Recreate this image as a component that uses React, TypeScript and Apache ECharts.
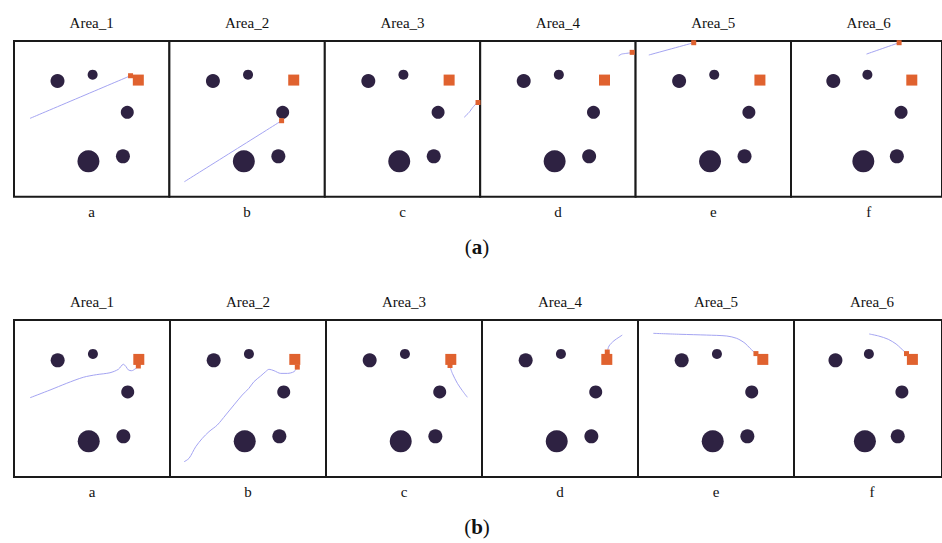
import React, { useEffect, useRef } from "react";
import * as echarts from "echarts";

const areaTitles = ["Area_1", "Area_2", "Area_3", "Area_4", "Area_5", "Area_6"];
const panelLabels = ["a", "b", "c", "d", "e", "f"];
const rowCaptions = ["a", "b"];

// obstacles (shared by all panels), in 0..100 panel units
const circleX = [28.0, 50.6, 72.9, 47.9, 70.1];
const circleY = [74.3, 78.4, 54.2, 22.7, 25.9];
const circleSize = [14, 10, 13, 22, 14];
const goalX = 80.0;
const goalY = 74.9;

// row (a) paths
const pathsA: number[][][] = [
  [[10.3, 50.3], [75.0, 77.7]],
  [[9.6, 9.6], [72.2, 48.8]],
  [[89.7, 51.0], [92.9, 54.2], [95.1, 57.2], [97.6, 60.0]],
  [[89.1, 90.5], [91.0, 91.6], [93.6, 92.0], [96.8, 92.4]],
  [[8.5, 91.0], [37.4, 98.9]],
  [[50.0, 91.6], [71.6, 98.9]],
];
const endA: number[][] = [
  [75.0, 77.7], [72.2, 48.8], [98.6, 60.5], [97.8, 92.7], [37.4, 98.9], [71.6, 98.9],
];

// row (b) paths
const pathsB: number[][][] = [
  [[10.3, 50.5], [23.1, 55.4], [33.8, 59.7], [44.4, 63.5], [53.0, 65.2], [61.5, 66.4], [66.9, 68.6], [70.1, 71.8], [71.8, 70.3], [73.3, 68.2], [75.4, 67.7], [77.6, 68.8], [79.5, 70.5]],
  [[9.0, 9.7], [12.2, 11.9], [16.5, 19.3], [20.7, 24.6], [25.0, 28.9], [30.3, 33.1], [35.7, 39.5], [41.0, 45.9], [46.3, 52.2], [50.6, 56.5], [53.8, 60.7], [58.1, 64.3], [61.3, 67.1], [63.5, 68.6], [66.7, 67.7], [71.0, 66.0], [75.2, 66.0], [79.5, 67.1], [81.6, 69.9]],
  [[79.5, 70.3], [81.0, 66.0], [84.2, 59.7], [87.4, 55.0], [90.6, 50.8]],
  [[80.3, 79.6], [81.4, 83.4], [84.6, 86.8], [87.8, 89.0], [89.9, 90.4]],
  [[9.8, 91.5], [26.9, 90.9], [44.0, 90.4], [56.9, 89.8], [63.3, 88.3], [68.6, 85.2], [71.8, 82.0], [75.2, 78.8]],
  [[50.8, 91.1], [57.2, 89.8], [63.7, 87.7], [69.0, 84.7], [72.2, 82.0], [75.6, 79.0]],
];
const endB: number[][] = [
  [79.7, 70.7], [81.6, 70.0], [79.5, 71.0], [80.3, 79.6], [75.6, 78.6], [76.0, 78.6],
];

const CIRCLE = "#2e2242";
const ORANGE = "#e0622f";
const PATH = "#a4a4f2";
const SERIF = "Liberation Serif";

export default function App() {
  const ref = useRef<HTMLDivElement>(null);
  useEffect(() => {
    if (!ref.current) return;
    const chart = echarts.init(ref.current, undefined, { renderer: "svg" });
    const rows = [
      { top: 41, height: 155.7, left: 14, step: 155.4, paths: pathsA, ends: endA, titleY: 23, labelY: 212, capY: 247 },
      { top: 320, height: 157, left: 14, step: 156, paths: pathsB, ends: endB, titleY: 302, labelY: 492, capY: 527 },
    ];
    const grid: any[] = [];
    const xAxis: any[] = [];
    const yAxis: any[] = [];
    const series: any[] = [];
    const graphic: any[] = [];
    const circleData = circleX.map((x, i) => [x, circleY[i], circleSize[i]]);
    rows.forEach((row, r) => {
      for (let i = 0; i < 6; i++) {
        const idx = r * 6 + i;
        const left = row.left + i * row.step;
        grid.push({
          left,
          top: row.top,
          width: row.step,
          height: row.height,
          show: true,
          borderColor: "#1a1a1a",
          borderWidth: 2,
          backgroundColor: "#ffffff",
        });
        xAxis.push({ type: "value", gridIndex: idx, min: 0, max: 100, show: false });
        yAxis.push({ type: "value", gridIndex: idx, min: 0, max: 100, show: false });
        series.push({
          type: "line",
          xAxisIndex: idx,
          yAxisIndex: idx,
          data: row.paths[i],
          showSymbol: false,
          smooth: r === 1 ? 0.3 : 0.2,
          lineStyle: { color: PATH, width: 1 },
          z: 3,
        });
        series.push({
          type: "scatter",
          xAxisIndex: idx,
          yAxisIndex: idx,
          data: circleData,
          symbol: "circle",
          symbolSize: (v: number[]) => v[2],
          itemStyle: { color: CIRCLE, opacity: 1 },
          z: 2,
        });
        series.push({
          type: "scatter",
          xAxisIndex: idx,
          yAxisIndex: idx,
          data: [[goalX, goalY]],
          symbol: "rect",
          symbolSize: 11,
          itemStyle: { color: ORANGE, opacity: 1 },
          z: 2,
        });
        series.push({
          type: "scatter",
          xAxisIndex: idx,
          yAxisIndex: idx,
          data: [row.ends[i]],
          symbol: "rect",
          symbolSize: 5,
          itemStyle: { color: ORANGE, opacity: 1 },
          z: 4,
        });
        graphic.push({
          type: "text",
          x: left + row.step / 2,
          y: row.titleY,
          style: {
            text: areaTitles[i],
            textAlign: "center",
            textVerticalAlign: "middle",
            fontFamily: SERIF,
            fontSize: 15,
            fill: "#111",
          },
        });
        graphic.push({
          type: "text",
          x: left + row.step / 2,
          y: row.labelY,
          style: {
            text: panelLabels[i],
            textAlign: "center",
            textVerticalAlign: "middle",
            fontFamily: SERIF,
            fontSize: 15,
            fill: "#111",
          },
        });
      }
      graphic.push({
        type: "text",
        x: 477,
        y: row.capY,
        style: {
          text: `{p|(}{b|${rowCaptions[r]}}{p|)}`,
          textAlign: "center",
          textVerticalAlign: "middle",
          rich: {
            p: { fontFamily: SERIF, fontSize: 21, fill: "#111" },
            b: { fontFamily: SERIF, fontSize: 21, fontWeight: "bold", fill: "#111" },
          },
        },
      });
    });
    chart.setOption({
      animation: false,
      backgroundColor: "#ffffff",
      grid,
      xAxis,
      yAxis,
      series,
      graphic,
    });
    return () => chart.dispose();
  }, []);
  return (
    <div
      ref={ref}
      style={{ position: "fixed", left: 0, top: 0, width: 942, height: 543 }}
    />
  );
}
